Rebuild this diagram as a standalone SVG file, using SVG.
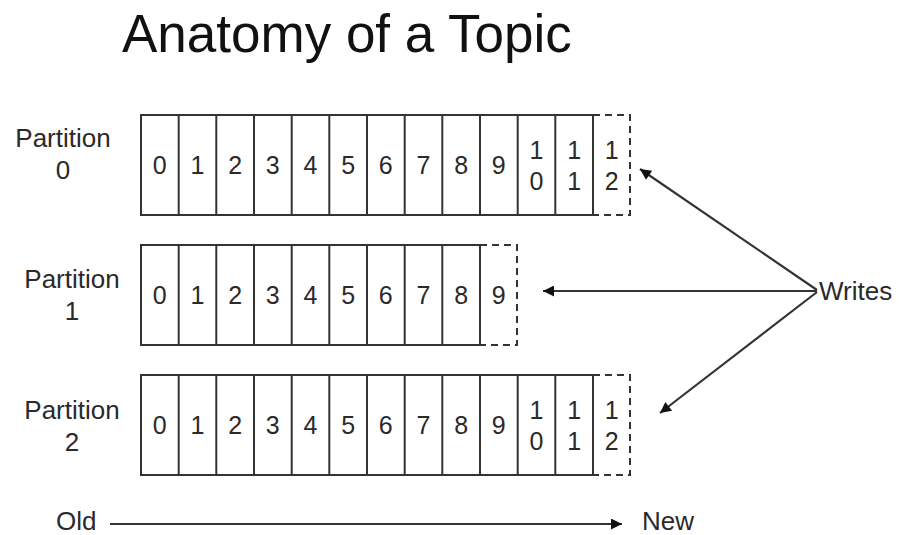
<svg xmlns="http://www.w3.org/2000/svg" width="919" height="535" viewBox="0 0 919 535">
<style>
text{font-family:"Liberation Sans",Arial,sans-serif;fill:#2a2a2a}
.title{font-size:53px;fill:#111}
.lbl{font-size:26px;text-anchor:middle}
.d{font-size:25px;text-anchor:middle}
.t{font-size:26px}
.box{fill:#fff;stroke:#333;stroke-width:2}
.cell{stroke:#333;stroke-width:2}
.dash{fill:none;stroke:#333;stroke-width:2;stroke-dasharray:7 5}
.conn{stroke:#333;stroke-width:2.2;fill:none}
</style>
<defs>
<marker id="ah" viewBox="0 0 10 10" refX="10" refY="5" markerWidth="16" markerHeight="11" markerUnits="userSpaceOnUse" orient="auto">
<path d="M0,0 L10,5 L0,10 z" fill="#111"/>
</marker>
</defs>
<rect width="919" height="535" fill="#fff"/>
<text class="title" x="122" y="52">Anatomy of a Topic</text>

<g id="partition0">
<text class="lbl" x="63" y="147">Partition</text>
<text class="lbl" x="63" y="179">0</text>
<rect class="box" x="141" y="115" width="452" height="100"/>
<path class="cell" d="M178.7,115V215M216.3,115V215M254,115V215M291.7,115V215M329.3,115V215M367,115V215M404.7,115V215M442.3,115V215M480,115V215M517.7,115V215M555.3,115V215"/>
<path class="dash" d="M593,115H630V215H593"/>
<text class="d" x="159.8" y="174">0</text>
<text class="d" x="197.5" y="174">1</text>
<text class="d" x="235.2" y="174">2</text>
<text class="d" x="272.8" y="174">3</text>
<text class="d" x="310.5" y="174">4</text>
<text class="d" x="348.2" y="174">5</text>
<text class="d" x="385.8" y="174">6</text>
<text class="d" x="423.5" y="174">7</text>
<text class="d" x="461.2" y="174">8</text>
<text class="d" x="498.8" y="174">9</text>
<text class="d" x="536.5" y="159">1</text><text class="d" x="536.5" y="190">0</text>
<text class="d" x="574.2" y="159">1</text><text class="d" x="574.2" y="190">1</text>
<text class="d" x="611.8" y="159">1</text><text class="d" x="611.8" y="190">2</text>
</g>

<g id="partition1">
<text class="lbl" x="72" y="288">Partition</text>
<text class="lbl" x="72" y="320">1</text>
<rect class="box" x="141" y="245" width="339" height="100"/>
<path class="cell" d="M178.7,245V345M216.3,245V345M254,245V345M291.7,245V345M329.3,245V345M367,245V345M404.7,245V345M442.3,245V345"/>
<path class="dash" d="M480,245H517V345H480"/>
<text class="d" x="159.8" y="304">0</text>
<text class="d" x="197.5" y="304">1</text>
<text class="d" x="235.2" y="304">2</text>
<text class="d" x="272.8" y="304">3</text>
<text class="d" x="310.5" y="304">4</text>
<text class="d" x="348.2" y="304">5</text>
<text class="d" x="385.8" y="304">6</text>
<text class="d" x="423.5" y="304">7</text>
<text class="d" x="461.2" y="304">8</text>
<text class="d" x="498.8" y="304">9</text>
</g>

<g id="partition2">
<text class="lbl" x="72" y="419">Partition</text>
<text class="lbl" x="72" y="451">2</text>
<rect class="box" x="141" y="375" width="452" height="100"/>
<path class="cell" d="M178.7,375V475M216.3,375V475M254,375V475M291.7,375V475M329.3,375V475M367,375V475M404.7,375V475M442.3,375V475M480,375V475M517.7,375V475M555.3,375V475"/>
<path class="dash" d="M593,375H630V475H593"/>
<text class="d" x="159.8" y="434">0</text>
<text class="d" x="197.5" y="434">1</text>
<text class="d" x="235.2" y="434">2</text>
<text class="d" x="272.8" y="434">3</text>
<text class="d" x="310.5" y="434">4</text>
<text class="d" x="348.2" y="434">5</text>
<text class="d" x="385.8" y="434">6</text>
<text class="d" x="423.5" y="434">7</text>
<text class="d" x="461.2" y="434">8</text>
<text class="d" x="498.8" y="434">9</text>
<text class="d" x="536.5" y="419">1</text><text class="d" x="536.5" y="450">0</text>
<text class="d" x="574.2" y="419">1</text><text class="d" x="574.2" y="450">1</text>
<text class="d" x="611.8" y="419">1</text><text class="d" x="611.8" y="450">2</text>
</g>

<g id="writes">
<text class="t" x="819" y="300">Writes</text>
</g>
<g id="old"><text class="t" x="56" y="530">Old</text></g>
<g id="new"><text class="t" x="642" y="530">New</text></g>

<g id="connectors">
<line class="conn" x1="817" y1="290" x2="640" y2="169" marker-end="url(#ah)"/>
<line class="conn" x1="817" y1="291" x2="543" y2="291" marker-end="url(#ah)"/>
<line class="conn" x1="817" y1="292" x2="660" y2="413" marker-end="url(#ah)"/>
<line class="conn" x1="110" y1="524" x2="622" y2="524" marker-end="url(#ah)"/>
</g>
</svg>
